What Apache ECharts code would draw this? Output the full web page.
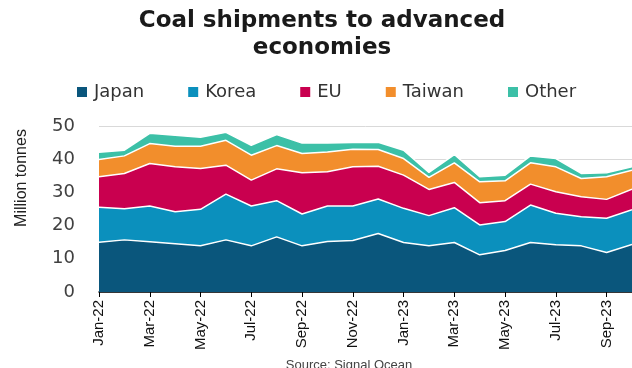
<!DOCTYPE html>
<html>
<head>
<meta charset="utf-8">
<script src="https://cdn.jsdelivr.net/npm/echarts@6/dist/echarts.min.js"></script>
<style>
html,body{margin:0;padding:0;background:#fff;}
#c{width:632px;height:368px;}
</style>
</head>
<body>
<div id="c"></div>
<script>
const months = ['Jan-22','Feb-22','Mar-22','Apr-22','May-22','Jun-22','Jul-22','Aug-22','Sep-22','Oct-22','Nov-22','Dec-22',
  'Jan-23','Feb-23','Mar-23','Apr-23','May-23','Jun-23','Jul-23','Aug-23','Sep-23','Oct-23'];
const japan  = [15.0,15.7,15.1,14.5,13.9,15.7,13.9,16.6,13.9,15.2,15.5,17.6,14.9,13.9,14.9,11.2,12.5,14.9,14.2,13.9,11.9,14.3];
const korea  = [10.5, 9.4,10.8, 9.7,11.0,13.8,12.0,10.9, 9.6,10.7,10.4,10.4,10.3, 9.1,10.5, 9.0, 8.7,11.3, 9.5, 8.8,10.3,10.5];
const eu     = [ 9.2,10.6,12.8,13.5,12.3, 8.7, 7.8, 9.6,12.4,10.3,11.8, 9.9,10.0, 7.9, 7.6, 6.7, 6.3, 6.3, 6.5, 6.0, 5.7, 6.2];
const taiwan = [ 5.2, 5.3, 6.0, 6.2, 6.7, 7.5, 7.5, 7.0, 5.8, 6.0, 5.3, 5.0, 5.0, 3.6, 5.9, 6.3, 6.0, 6.4, 7.5, 5.5, 6.8, 5.7];
const other  = [ 2.2, 1.7, 3.1, 3.3, 2.7, 2.4, 3.0, 3.3, 3.2, 2.7, 2.0, 2.2, 2.5, 1.5, 2.5, 1.5, 1.7, 2.1, 2.5, 1.5, 1.2, 1.0];
const yTicks = [0,10,20,30,40,50];

const seriesDefs = [
  {name:'Japan', data:japan, color:'#0a567c'},
  {name:'Korea', data:korea, color:'#0b90bd'},
  {name:'EU', data:eu, color:'#c9004f'},
  {name:'Taiwan', data:taiwan, color:'#f28e2c'},
  {name:'Other', data:other, color:'#3cc0a7'}
];

const chart = echarts.init(document.getElementById('c'), null, {renderer:'canvas'});
chart.setOption({
  animation:false,
  backgroundColor:'#fff',
  title:{
    text:'Coal shipments to advanced\neconomies',
    left:317, top:3, textAlign:'center',
    textStyle:{fontFamily:'DejaVu Sans', fontWeight:'bold', fontSize:23, color:'#1a1a1a', lineHeight:27}
  },
  legend:{
    top:78, left:72, itemWidth:10, itemHeight:10, itemGap:44,
    icon:'rect',
    textStyle:{fontFamily:'DejaVu Sans', fontSize:18, color:'#333', padding:[0,0,0,2]},
    data:seriesDefs.map(s=>s.name)
  },
  grid:{left:99, right:-7, top:126, bottom:76},
  xAxis:{
    type:'category', boundaryGap:false, data:months,
    axisLine:{lineStyle:{color:'#000', width:1.5}},
    axisTick:{show:true, interval:1, length:5, lineStyle:{color:'#000'}},
    axisLabel:{interval:1, rotate:90, fontFamily:'Liberation Sans Narrow, Liberation Sans', fontSize:15, color:'#111', margin:8}
  },
  yAxis:{
    type:'value', min:yTicks[0], max:yTicks[yTicks.length-1], interval:10,
    axisLine:{show:false}, axisTick:{show:false},
    axisLabel:{fontFamily:'DejaVu Sans', fontSize:18, color:'#404040', margin:24},
    splitLine:{lineStyle:{color:'#d9d9d9', width:1}}
  },
  graphic:[{
    type:'text', x:22, y:178, rotation:Math.PI/2,
    style:{text:'Million tonnes', fontFamily:'Liberation Sans Narrow, Liberation Sans', fontSize:16, fill:'#222', align:'center', verticalAlign:'middle'}
  },{
    type:'text', x:349, y:365,
    style:{text:'Source: Signal Ocean', fontFamily:'Liberation Sans', fontSize:13, fill:'#444', align:'center', verticalAlign:'middle'}
  }],
  series:seriesDefs.map(s=>({
    name:s.name, type:'line', stack:'total', data:s.data,
    symbol:'none', itemStyle:{color:s.color},
    lineStyle:{color:'#fff', width:1.5},
    areaStyle:{color:s.color, opacity:1}
  }))
});
</script>
</body>
</html>
